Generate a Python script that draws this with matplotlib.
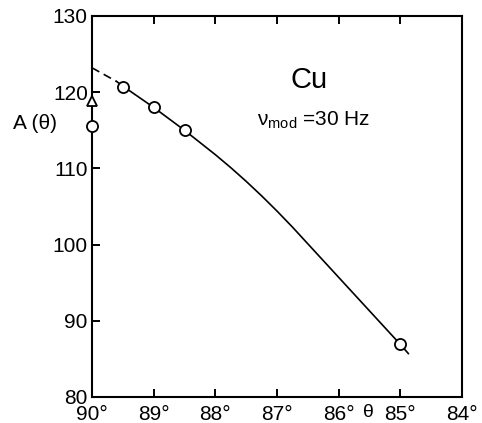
import numpy as np
import matplotlib
matplotlib.use("Agg")
import matplotlib.pyplot as plt

plt.rcParams['font.family'] = ['Liberation Sans', 'DejaVu Sans']

# measured points (open circles)
theta_pts = [90.0, 89.5, 89.0, 88.5, 85.0]
A_pts = [115.6, 120.7, 118.0, 115.0, 86.9]

# triangle point at 90 deg
theta_tri = [90.0]
A_tri = [118.9]

# dashed extrapolation near 90 deg
theta_dash = [90.0, 89.8, 89.6]
A_dash = [123.2, 122.3, 121.4]

# solid fit curve
theta_fit = [89.6, 89.5, 89.25, 89.0, 88.75, 88.5, 88.25, 88.0, 87.75, 87.5, 87.25,
             87.0, 86.75, 86.5, 86.25, 86.0, 85.75, 85.5, 85.25, 85.0, 84.87]
A_fit = [121.4, 120.8, 119.4, 118.0, 116.5, 115.0, 113.4, 111.8, 110.1, 108.3, 106.4,
         104.4, 102.3, 100.1, 97.9, 95.7, 93.5, 91.3, 89.1, 86.9, 85.7]

xticks = [90, 89, 88, 87, 86, 85, 84]
xticklabels = ['90°', '89°', '88°', '87°', '86°', '85°', '84°']
yticks = [80, 90, 100, 110, 120, 130]

fig = plt.figure(figsize=(4.82, 4.23), dpi=100)
ax = fig.add_axes([0.1909, 0.0615, 0.7676, 0.9007])

ax.plot(theta_dash, A_dash, color='black', lw=1.2, dashes=(5, 3))
ax.plot(theta_fit, A_fit, color='black', lw=1.2)
ax.plot(theta_pts, A_pts, 'o', ms=8, mfc='white', mec='black', mew=1.3, clip_on=False, zorder=5)
ax.plot(theta_tri, A_tri, '^', ms=7, mfc='white', mec='black', mew=1.3, clip_on=False, zorder=5)

ax.set_xlim(90, 84)
ax.set_ylim(80, 130)
ax.set_xticks(xticks)
ax.set_xticklabels(xticklabels)
ax.set_yticks(yticks)

for s in ax.spines.values():
    s.set_linewidth(1.5)

ax.tick_params(direction='in', length=6, width=1.4, top=True, right=False,
               labelsize=15, pad=3)
ax.tick_params(axis='x', pad=6)

ax.text(85.52, 76.9, 'θ', fontsize=14, ha='center', va='bottom')
ax.text(-0.155, 0.717, 'A (θ)', transform=ax.transAxes, fontsize=15,
        ha='center', va='center')

ax.text(86.48, 121.6, 'Cu', fontsize=21, ha='center', va='center')
ax.text(86.4, 116.3, r'ν$_{\mathregular{mod}}$ =30 Hz', fontsize=15,
        ha='center', va='center')

fig.savefig('out.png', dpi=100)
